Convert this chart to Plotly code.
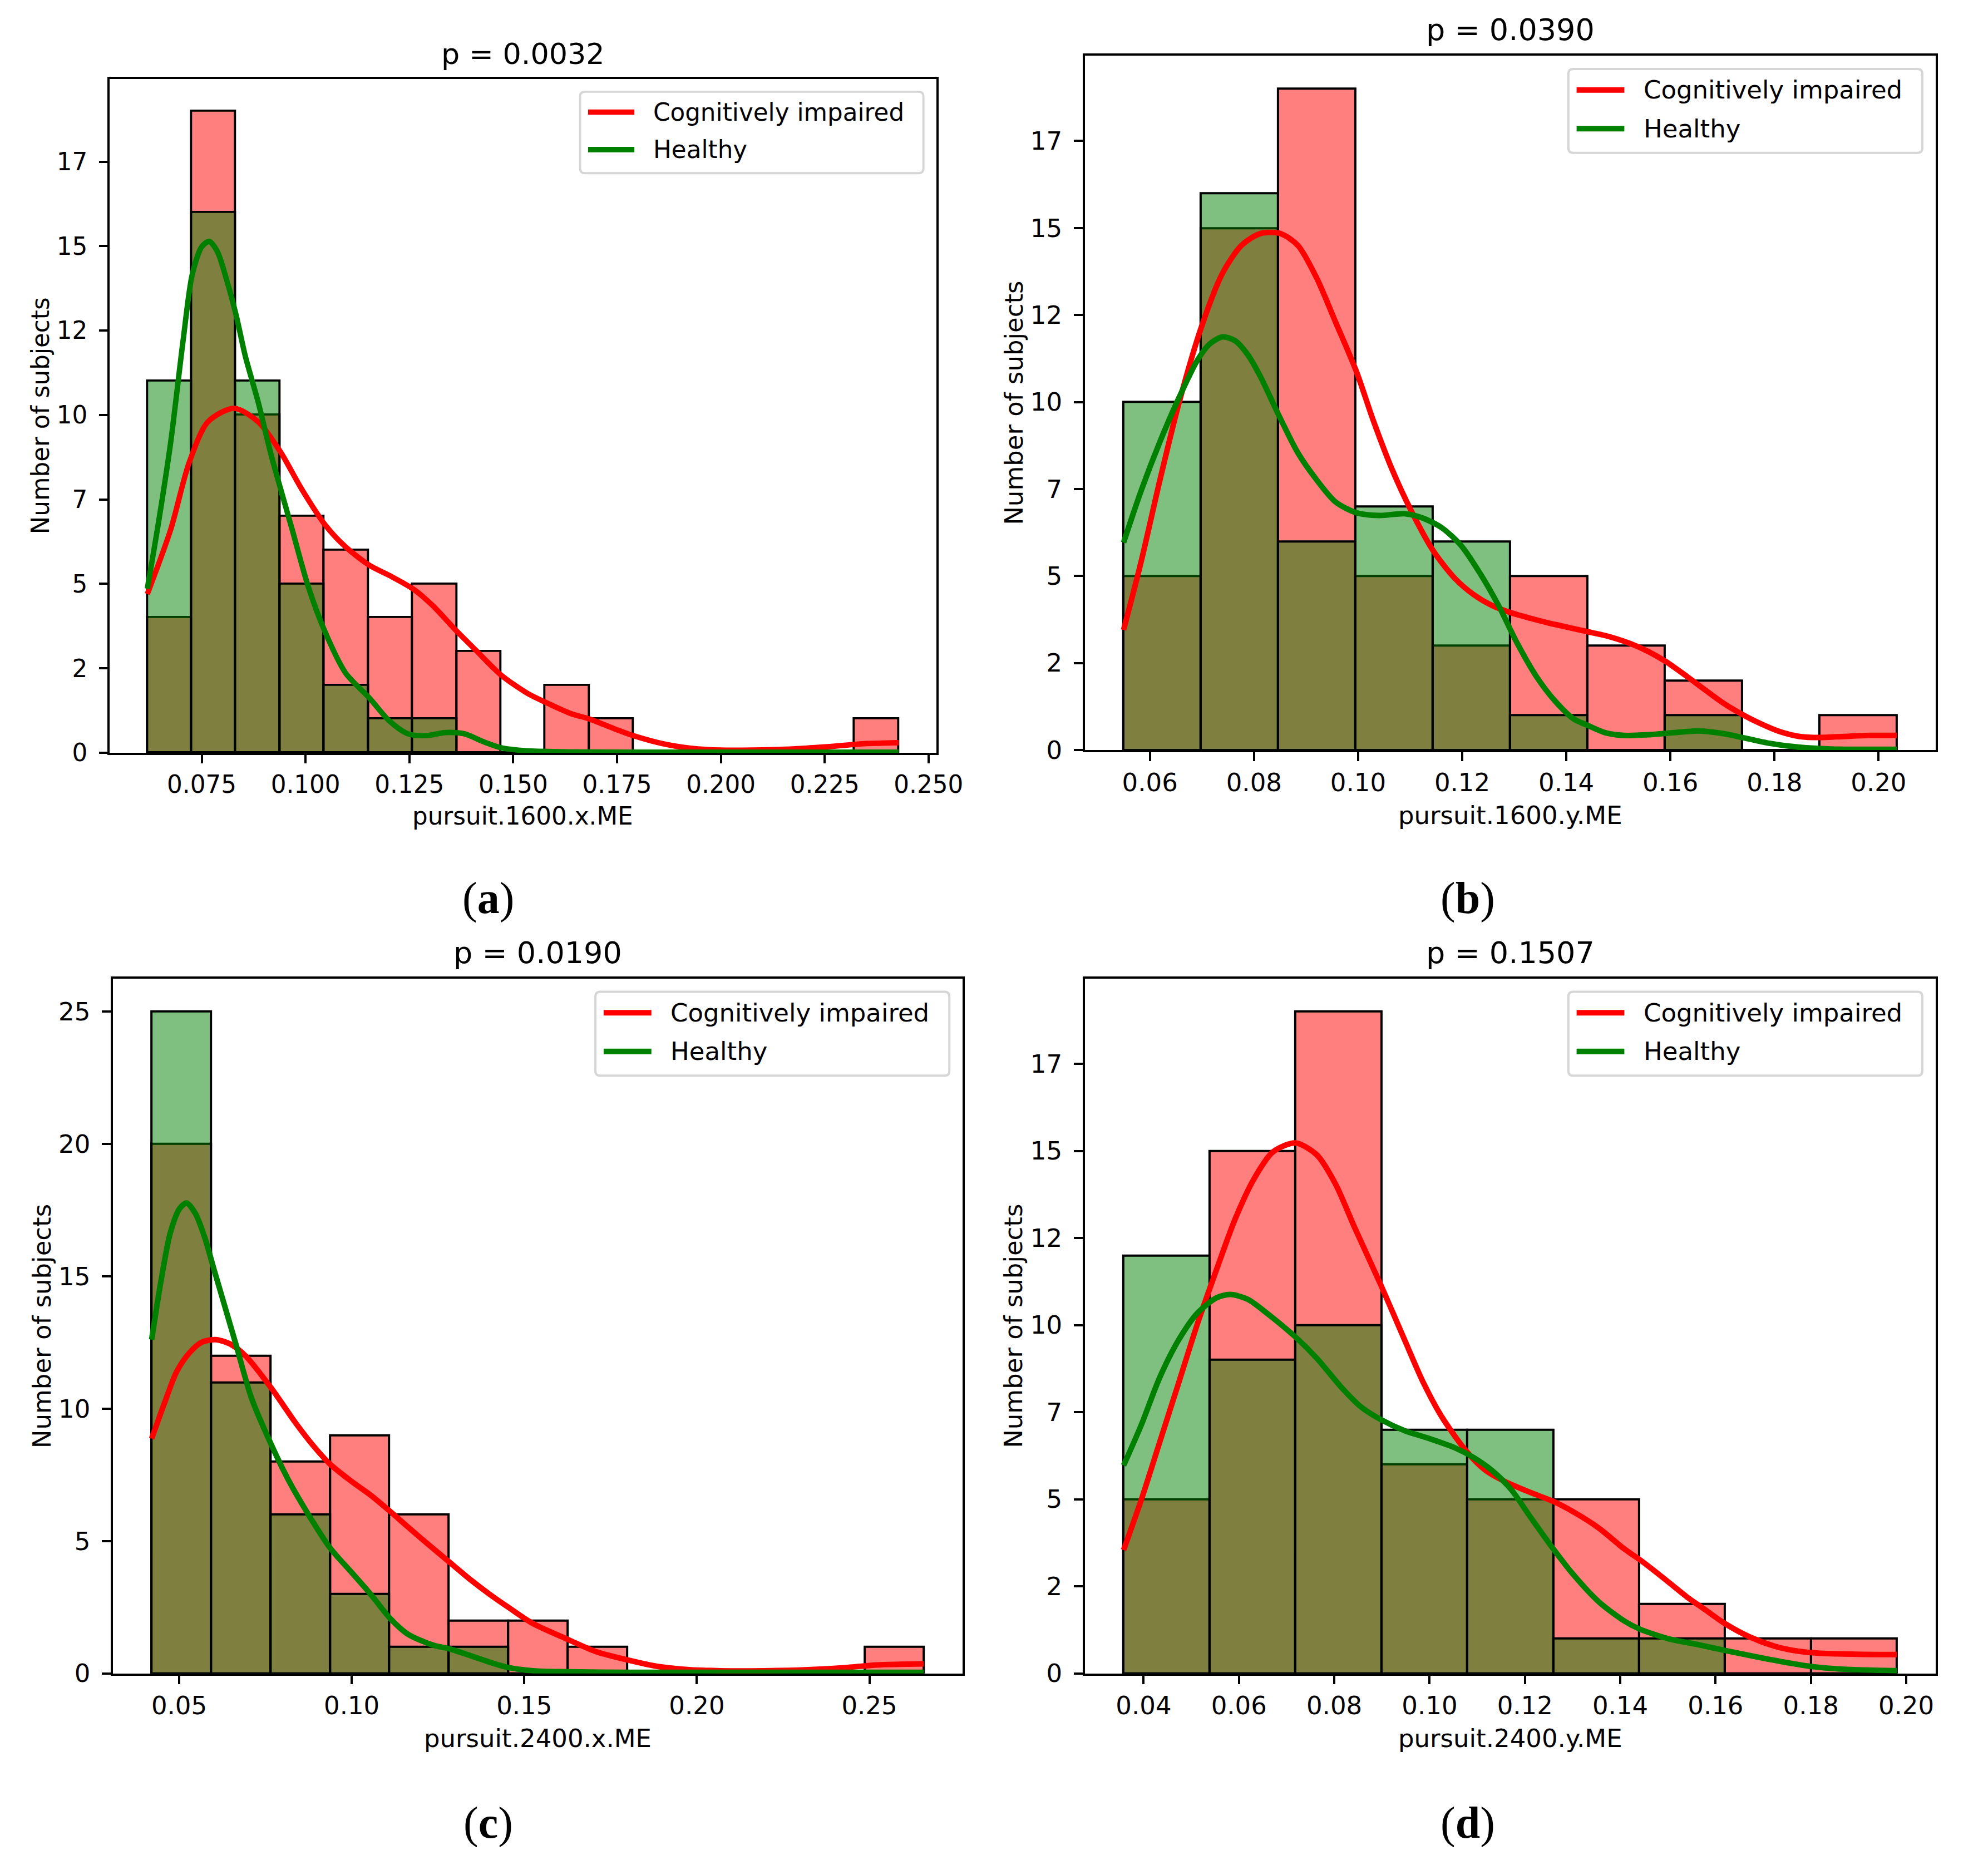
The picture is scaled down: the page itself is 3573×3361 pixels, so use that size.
import numpy as np
import plotly.graph_objects as go

W, H = 3573, 3361

# ---- data ----
labels = ["pursuit.1600.x.ME", "pursuit.1600.y.ME", "pursuit.2400.x.ME", "pursuit.2400.y.ME"]
p_titles = ["p = 0.0032", "p = 0.0390", "p = 0.0190", "p = 0.1507"]
tags = ["a", "b", "c", "d"]
groups = ["Cognitively impaired", "Healthy"]

# first / last bin edge and counts per bin
a_edges = [0.0619, 0.2428]
a_red = [4, 19, 10, 7, 6, 4, 5, 3, 0, 2, 1, 0, 0, 0, 0, 0, 1]
a_green = [11, 16, 11, 5, 2, 1, 1, 0, 0, 0, 0, 0, 0, 0, 0, 0, 0]

b_edges = [0.05494, 0.2035]
b_red = [5, 15, 19, 5, 3, 5, 3, 2, 0, 1]
b_green = [10, 16, 6, 7, 6, 1, 0, 1, 0, 0]

c_edges = [0.04203, 0.2658]
c_red = [20, 12, 8, 9, 6, 2, 2, 1, 0, 0, 0, 0, 1]
c_green = [25, 11, 6, 3, 1, 1, 0, 0, 0, 0, 0, 0, 0]

d_edges = [0.03579, 0.19803]
d_red = [5, 15, 19, 6, 5, 5, 2, 1, 1]
d_green = [12, 9, 10, 7, 7, 1, 1, 0, 0]

# kde curves (traced points)
a_kde_red_x = [0.0619, 0.0675, 0.0720, 0.0765, 0.0828, 0.0886, 0.0940, 0.0991, 0.1047, 0.1096,
               0.1154, 0.1202, 0.1259, 0.1307, 0.1364, 0.1413, 0.1471, 0.1533, 0.1577, 0.1639,
               0.1684, 0.1744, 0.1789, 0.1864, 0.1925, 0.2000, 0.2075, 0.2166, 0.2256, 0.2346, 0.2428]
a_kde_red_y = [4.7, 6.6, 8.6, 9.8, 10.2, 9.8, 8.9, 7.8, 6.75, 6.1,
               5.55, 5.25, 4.85, 4.35, 3.6, 3.0, 2.3, 1.77, 1.5, 1.16,
               1.0, 0.71, 0.51, 0.26, 0.14, 0.08, 0.08, 0.11, 0.18, 0.27, 0.30]
a_kde_green_x = [0.0619, 0.0645, 0.0675, 0.0705, 0.0727, 0.0750, 0.0768, 0.0788, 0.0810, 0.0833,
                 0.0855, 0.0886, 0.0916, 0.0940, 0.0968, 0.1006, 0.1047, 0.1096, 0.1154, 0.1202,
                 0.1247, 0.1292, 0.1337, 0.1383, 0.1428, 0.1471, 0.1533, 0.1624, 0.1774, 0.1925,
                 0.2075, 0.2226, 0.2428]
a_kde_green_y = [4.86, 6.75, 9.17, 12.19, 14.15, 14.98, 15.14, 14.83, 14.0, 12.95,
                 11.74, 10.38, 8.87, 7.81, 6.6, 4.94, 3.58, 2.37, 1.62, 0.94,
                 0.56, 0.51, 0.60, 0.56, 0.33, 0.15, 0.06, 0.03, 0.02, 0.02,
                 0.02, 0.02, 0.02]

b_kde_red_x = [0.05494, 0.05831, 0.06193, 0.06554, 0.06988, 0.07398, 0.07759, 0.08120, 0.08506, 0.08843,
               0.09205, 0.09566, 0.09964, 0.10289, 0.10651, 0.11012, 0.11446, 0.11855, 0.12217, 0.12578,
               0.12928, 0.13301, 0.13663, 0.14024, 0.14410, 0.14747, 0.15229, 0.15590, 0.15904, 0.16313,
               0.16675, 0.17036, 0.17386, 0.17759, 0.18120, 0.18482, 0.18867, 0.19325, 0.19807, 0.20349]
b_kde_red_y = [3.45, 5.41, 7.76, 9.95, 12.15, 13.71, 14.5, 14.84, 14.84, 14.5,
               13.56, 12.3, 10.89, 9.48, 8.07, 6.9, 5.72, 4.94, 4.47, 4.15,
               3.95, 3.79, 3.65, 3.53, 3.40, 3.29, 3.06, 2.82, 2.55, 2.12,
               1.72, 1.33, 1.02, 0.74, 0.52, 0.39, 0.36, 0.39, 0.42, 0.42]
b_kde_green_x = [0.05494, 0.05831, 0.06193, 0.06554, 0.06916, 0.07157, 0.07398, 0.07639, 0.07880, 0.08120,
                 0.08470, 0.08843, 0.09205, 0.09566, 0.09964, 0.10410, 0.10892, 0.11253, 0.11614, 0.11976,
                 0.12337, 0.12699, 0.13060, 0.13422, 0.13783, 0.14145, 0.14410, 0.14747, 0.15108, 0.15590,
                 0.16072, 0.16554, 0.17036, 0.17386, 0.17880, 0.18482, 0.19084, 0.20349]
b_kde_green_y = [5.96, 7.45, 8.86, 10.11, 11.21, 11.68, 11.87, 11.76, 11.36, 10.74,
                 9.64, 8.54, 7.76, 7.13, 6.82, 6.74, 6.79, 6.66, 6.38, 5.88,
                 5.09, 4.15, 3.06, 2.12, 1.41, 0.89, 0.71, 0.50, 0.42, 0.44,
                 0.50, 0.55, 0.47, 0.36, 0.20, 0.08, 0.03, 0.02]

c_kde_red_x = [0.04203, 0.04565, 0.04928, 0.05290, 0.05652, 0.06051, 0.06467, 0.06920, 0.07663, 0.08370,
               0.08913, 0.09384, 0.10000, 0.10543, 0.11105, 0.11630, 0.12174, 0.12826, 0.13442, 0.13986,
               0.14547, 0.15254, 0.16268, 0.17065, 0.17989, 0.18877, 0.19783, 0.20688, 0.21957, 0.23225,
               0.24312, 0.25217, 0.26576]
c_kde_red_y = [8.87, 10.18, 11.4, 12.1, 12.51, 12.61, 12.45, 12.0, 10.79, 9.47,
               8.56, 7.89, 7.25, 6.74, 6.13, 5.53, 4.92, 4.21, 3.54, 3.0,
               2.49, 1.88, 1.28, 0.83, 0.51, 0.26, 0.14, 0.10, 0.10, 0.14,
               0.22, 0.32, 0.36]
c_kde_green_x = [0.04203, 0.04475, 0.04746, 0.05018, 0.05217, 0.05471, 0.05743, 0.06014, 0.06286, 0.06649,
                 0.07101, 0.07663, 0.08188, 0.08732, 0.09384, 0.10000, 0.10543, 0.11105, 0.11630, 0.12355,
                 0.12826, 0.13442, 0.13986, 0.14547, 0.15254, 0.16268, 0.17971, 0.21594, 0.26576]
c_kde_green_y = [12.61, 14.84, 16.66, 17.57, 17.77, 17.37, 16.46, 15.24, 14.03, 12.41,
                 10.38, 8.66, 7.25, 6.03, 4.72, 3.81, 3.0, 2.09, 1.48, 1.07,
                 0.93, 0.67, 0.43, 0.22, 0.10, 0.06, 0.04, 0.04, 0.04]

d_kde_red_x = [0.03579, 0.03947, 0.04342, 0.04737, 0.05132, 0.05526, 0.05921, 0.06316, 0.06711, 0.07184,
               0.07632, 0.08026, 0.08421, 0.08987, 0.09474, 0.09868, 0.10263, 0.10789, 0.11184, 0.11579,
               0.12105, 0.12592, 0.13026, 0.13553, 0.14079, 0.14395, 0.14868, 0.15395, 0.15789, 0.16197,
               0.16711, 0.17237, 0.17632, 0.18158, 0.18947, 0.19803]
d_kde_red_y = [3.54, 4.97, 6.66, 8.35, 10.05, 11.58, 13.05, 14.2, 14.97, 15.23,
               14.89, 14.05, 12.82, 11.12, 9.58, 8.35, 7.35, 6.35, 5.82, 5.51,
               5.2, 4.94, 4.63, 4.17, 3.58, 3.28, 2.78, 2.2, 1.82, 1.43,
               1.05, 0.78, 0.66, 0.58, 0.55, 0.54]
d_kde_green_x = [0.03579, 0.03947, 0.04342, 0.04737, 0.05132, 0.05526, 0.05816, 0.06184, 0.06579, 0.07184,
                 0.07632, 0.08158, 0.08553, 0.08987, 0.09474, 0.10000, 0.10526, 0.10921, 0.11316, 0.11711,
                 0.12105, 0.12592, 0.13026, 0.13553, 0.14079, 0.14395, 0.15000, 0.15658, 0.16197, 0.16842,
                 0.17500, 0.18000, 0.18684, 0.19803]
d_kde_green_y = [5.97, 7.12, 8.51, 9.58, 10.35, 10.78, 10.88, 10.74, 10.35, 9.66,
                 9.05, 8.2, 7.66, 7.28, 6.97, 6.74, 6.48, 6.2, 5.82, 5.28,
                 4.51, 3.58, 2.82, 2.05, 1.51, 1.28, 1.0, 0.82, 0.66, 0.48,
                 0.31, 0.2, 0.12, 0.08]

a_xticks = [0.075, 0.100, 0.125, 0.150, 0.175, 0.200, 0.225, 0.250]
b_xticks = [0.06, 0.08, 0.10, 0.12, 0.14, 0.16, 0.18, 0.20]
c_xticks = [0.05, 0.10, 0.15, 0.20, 0.25]
d_xticks = [0.04, 0.06, 0.08, 0.10, 0.12, 0.14, 0.16, 0.18, 0.20]
xtick_fmt = ["{:.3f}", "{:.2f}", "{:.2f}", "{:.2f}"]
half_yticks = [0, 2.5, 5, 7.5, 10, 12.5, 15, 17.5]
five_yticks = [0, 5, 10, 15, 20, 25]

panels = [
    (a_edges, a_red, a_green, a_kde_red_x, a_kde_red_y, a_kde_green_x, a_kde_green_y, a_xticks, half_yticks),
    (b_edges, b_red, b_green, b_kde_red_x, b_kde_red_y, b_kde_green_x, b_kde_green_y, b_xticks, half_yticks),
    (c_edges, c_red, c_green, c_kde_red_x, c_kde_red_y, c_kde_green_x, c_kde_green_y, c_xticks, five_yticks),
    (d_edges, d_red, d_green, d_kde_red_x, d_kde_red_y, d_kde_green_x, d_kde_green_y, d_xticks, half_yticks),
]

# ---- layout (pixel boxes of each axes: left, top, right, bottom, scale) ----
boxes = [
    (200, 143, 1706, 1364, 0.97),
    (1977, 101, 3527, 1359, 1.0),
    (206, 1773, 1754, 3032, 1.0),
    (1977, 1773, 3527, 3032, 1.0),
]
tag_pos = [(890, 1628), (2675, 1628), (890, 3303), (2675, 3303)]

RED = "#ff0000"
GREEN = "#008000"
FONT = "DejaVu Sans"


def X(px):
    return px / W


def Y(py):
    return 1 - py / H


def rounded_box(l, t, r, b, rad):
    pts = [
        ("M", l + rad, t), ("L", r - rad, t), ("Q", r, t, r, t + rad),
        ("L", r, b - rad), ("Q", r, b, r - rad, b), ("L", l + rad, b),
        ("Q", l, b, l, b - rad), ("L", l, t + rad), ("Q", l, t, l + rad, t),
    ]
    out = []
    for p in pts:
        cmd = p[0]
        coords = p[1:]
        s = " ".join(f"{X(coords[k]):.5f},{Y(coords[k + 1]):.5f}" for k in range(0, len(coords), 2))
        out.append(cmd + s)
    return " ".join(out) + " Z"


fig = go.Figure()
shapes = []
annotations = []
layout = {}

for i, (edges, red, green, krx, kry, kgx, kgy, xticks, yticks) in enumerate(panels):
    n = i + 1
    xa = "x" if n == 1 else f"x{n}"
    ya = "y" if n == 1 else f"y{n}"
    l, t, r, b, s = boxes[i]

    nb = len(red)
    bw = (edges[1] - edges[0]) / nb
    centers = edges[0] + bw * (np.arange(nb) + 0.5)

    for counts, col in [(red, "rgba(255,0,0,0.5)"), (green, "rgba(0,128,0,0.5)")]:
        fig.add_trace(go.Bar(
            x=centers, y=counts, width=bw, xaxis=xa, yaxis=ya,
            marker=dict(color=col, line=dict(color="black", width=4 * s)),
            hoverinfo="skip", showlegend=False,
        ))
    for kx, ky, col in [(krx, kry, RED), (kgx, kgy, GREEN)]:
        fig.add_trace(go.Scatter(
            x=kx, y=ky, mode="lines", xaxis=xa, yaxis=ya,
            line=dict(color=col, width=10 * s, shape="spline", smoothing=0.8),
            showlegend=False,
        ))

    span = edges[1] - edges[0]
    xr = [edges[0] - 0.05 * span, edges[1] + 0.05 * span]
    yr = [0, max(max(red), max(green)) * 1.05]

    axis_common = dict(
        showline=True, mirror=True, linecolor="black", linewidth=3.7 * s,
        ticks="outside", ticklen=16 * s, tickwidth=3.7 * s, tickcolor="black",
        showgrid=False, zeroline=False,
        tickfont=dict(family=FONT, size=45 * s, color="black"),
    )
    layout["xaxis" if n == 1 else f"xaxis{n}"] = dict(
        axis_common, domain=[X(l), X(r)], anchor=ya, range=xr,
        tickvals=xticks, ticktext=[xtick_fmt[i].format(v) for v in xticks],
        ticklabelstandoff=0,
    )
    layout["yaxis" if n == 1 else f"yaxis{n}"] = dict(
        axis_common, domain=[Y(b), Y(t)], anchor=xa, range=yr,
        tickvals=yticks, ticktext=[str(int(v)) for v in yticks],
        ticklabelstandoff=int(round(12 * s)),
    )

    cx = (l + r) / 2
    cy = (t + b) / 2
    annotations.append(dict(text=p_titles[i], x=X(cx), y=Y(t - 47 * s), xref="paper", yref="paper",
                            showarrow=False, xanchor="center", yanchor="middle",
                            font=dict(family=FONT, size=54 * s, color="black")))
    annotations.append(dict(text=labels[i], x=X(cx), y=Y(b + 118 * s), xref="paper", yref="paper",
                            showarrow=False, xanchor="center", yanchor="middle",
                            font=dict(family=FONT, size=45 * s, color="black")))
    annotations.append(dict(text="Number of subjects", x=X(l - 130 * s), y=Y(cy), xref="paper", yref="paper",
                            showarrow=False, xanchor="center", yanchor="middle", textangle=-90,
                            font=dict(family=FONT, size=45 * s, color="black")))
    tx, ty = tag_pos[i]
    annotations.append(dict(text=f"(<b>{tags[i]}</b>)", x=X(tx), y=Y(ty), xref="paper", yref="paper",
                            showarrow=False, xanchor="center", yanchor="middle",
                            font=dict(family="Liberation Serif", size=80, color="black")))

    # legend box drawn by hand to match the matplotlib look
    lr = r - 24 * s
    lt = t + 24 * s
    ll = lr - 645 * s
    lb = lt + 152 * s
    shapes.append(dict(type="path", path=rounded_box(ll, lt, lr, lb, 9 * s), xref="paper", yref="paper",
                       line=dict(color="#d6d6d6", width=4 * s), fillcolor="rgba(255,255,255,0.8)",
                       layer="above"))
    for k, (name, col) in enumerate(zip(groups, [RED, GREEN])):
        ry = lt + (38 + 70 * k) * s
        shapes.append(dict(type="line", x0=X(ll + 15 * s), x1=X(ll + 102 * s), y0=Y(ry), y1=Y(ry),
                           xref="paper", yref="paper", line=dict(color=col, width=10 * s), layer="above"))
        annotations.append(dict(text=name, x=X(ll + 135 * s), y=Y(ry), xref="paper", yref="paper",
                                showarrow=False, xanchor="left", yanchor="middle",
                                font=dict(family=FONT, size=45 * s, color="black")))

fig.update_layout(
    width=W, height=H, margin=dict(l=0, r=0, t=0, b=0),
    paper_bgcolor="white", plot_bgcolor="white",
    barmode="overlay", bargap=0, showlegend=False,
    shapes=shapes, annotations=annotations, **layout,
)

fig.write_html("out.html", config={"displayModeBar": False},
               post_script="document.body.style.margin='0';")
